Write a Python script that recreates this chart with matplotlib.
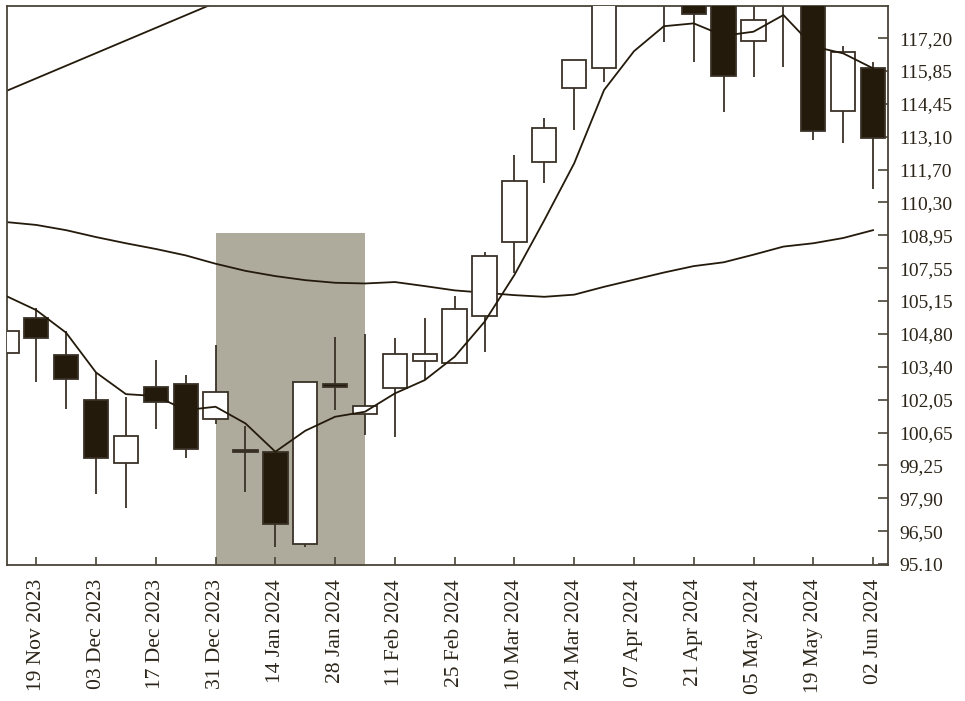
import matplotlib
matplotlib.use("Agg")
import matplotlib.pyplot as plt
import matplotlib.dates as mdates
from matplotlib.ticker import FixedLocator, FixedFormatter
import numpy as np
import pandas as pd

# ---------------- data ----------------
dates = ["2023-11-12", "2023-11-19", "2023-11-26", "2023-12-03", "2023-12-10",
         "2023-12-17", "2023-12-24", "2023-12-31", "2024-01-07", "2024-01-14",
         "2024-01-21", "2024-01-28", "2024-02-04", "2024-02-11", "2024-02-18",
         "2024-02-25", "2024-03-03", "2024-03-10", "2024-03-17", "2024-03-24",
         "2024-03-31", "2024-04-07", "2024-04-14", "2024-04-21", "2024-04-28",
         "2024-05-05", "2024-05-12", "2024-05-19", "2024-05-26", "2024-06-02"]

open_ = [103.95, 105.45, 103.87, 101.99, 99.36, 102.55, 102.66, 101.18, 99.90, 99.82,
         95.93, 102.66, 101.39, 102.49, 103.63, 103.56, 105.52, 108.63, 111.99, 115.09,
         115.95, 120.10, 119.40, 119.60, 119.00, 117.09, 119.10, 119.80, 114.13, 115.95]
high = [105.30, 105.87, 104.90, 103.18, 102.10, 103.66, 103.04, 104.30, 100.90, 99.82,
        102.76, 104.62, 104.76, 104.61, 105.42, 106.36, 108.22, 112.27, 113.83, 116.29,
        120.40, 121.60, 120.80, 120.20, 119.40, 119.20, 120.50, 120.20, 116.86, 116.20]
low = [103.50, 102.76, 101.60, 98.03, 97.47, 100.76, 99.54, 100.98, 98.11, 95.83,
       95.83, 101.57, 100.52, 100.42, 102.83, 103.49, 104.00, 107.31, 111.10, 113.36,
       115.35, 118.90, 117.04, 116.18, 114.10, 115.55, 115.99, 112.91, 112.78, 110.84]
close = [104.90, 104.58, 102.88, 99.57, 100.49, 101.92, 99.93, 102.31, 99.80, 96.77,
         102.76, 102.55, 101.74, 103.92, 103.92, 105.80, 108.04, 111.19, 113.42, 116.29,
         119.80, 121.20, 120.30, 118.20, 115.60, 117.96, 120.00, 113.29, 116.60, 113.01]

ma_short = [106.36, 105.77, 104.82, 103.15, 102.24, 102.16, 101.57, 101.71, 101.01, 99.82,
            100.70, 101.29, 101.50, 102.27, 102.83, 103.81, 105.28, 107.25, 109.55, 111.94,
            115.02, 116.65, 117.70, 117.82, 117.30, 117.47, 118.17, 116.85, 116.56, 115.93]
ma_long = [109.47, 109.35, 109.13, 108.84, 108.58, 108.34, 108.07, 107.72, 107.42, 107.20,
           107.03, 106.92, 106.89, 106.95, 106.78, 106.60, 106.50, 106.40, 106.33, 106.42,
           106.75, 107.05, 107.35, 107.62, 107.78, 108.10, 108.44, 108.58, 108.80, 109.13]

trend_dates = ["2023-11-12", "2024-01-21"]
trend_values = [114.98, 120.28]

shade_dates = ["2023-12-31", "2024-02-04"]
shade_top = 109.0

ytick_labels = ["95.10", "96,50", "97,90", "99,25", "100,65", "102,05", "103,40",
                "104,80", "105,15", "107,55", "108,95", "110,30", "111,70", "113,10",
                "114,45", "115,85", "117,20"]
xtick_dates = ["2023-11-19", "2023-12-03", "2023-12-17", "2023-12-31", "2024-01-14",
               "2024-01-28", "2024-02-11", "2024-02-25", "2024-03-10", "2024-03-24",
               "2024-04-07", "2024-04-21", "2024-05-05", "2024-05-19", "2024-06-02"]
xtick_labels = ["19 Nov 2023", "03 Dec 2023", "17 Dec 2023", "31 Dec 2023", "14 Jan 2024",
                "28 Jan 2024", "11 Feb 2024", "25 Feb 2024", "10 Mar 2024", "24 Mar 2024",
                "07 Apr 2024", "21 Apr 2024", "05 May 2024", "19 May 2024", "02 Jun 2024"]

# ---------------- style ----------------
DARK = "#231a0b"
EDGE = "#3a3226"
SPINE = "#4a4438"
SHADE = "#aeab9c"
TEXT = "#2b2418"

plt.rcParams["font.family"] = ["Liberation Serif", "DejaVu Serif"]

fig = plt.figure(figsize=(9.65, 7.01), dpi=100)
ax = fig.add_axes([7 / 965, 1 - 565 / 701, (888 - 7) / 965, (565 - 6) / 701])

x = mdates.date2num(pd.to_datetime(dates))
o = np.array(open_); h = np.array(high); l = np.array(low); c = np.array(close)

# shaded region
sx = mdates.date2num(pd.to_datetime(shade_dates))
ax.fill_between(sx, 90, shade_top, color=SHADE, linewidth=0, zorder=0)

# trend line
tx = mdates.date2num(pd.to_datetime(trend_dates))
ax.plot(tx, trend_values, color=DARK, lw=1.3, zorder=1)

# long moving average
ax.plot(x, ma_long, color=DARK, lw=1.3, zorder=1)

# candles
width = 5.7
ax.vlines(x, l, h, color=EDGE, lw=1.3, zorder=2)
up = c >= o
bottoms = np.minimum(o, c)
heights = np.maximum(np.abs(c - o), 0.08)
ax.bar(x[up], heights[up], width=width, bottom=bottoms[up], color="white",
       edgecolor=EDGE, linewidth=1.3, zorder=3)
ax.bar(x[~up], heights[~up], width=width, bottom=bottoms[~up], color=DARK,
       edgecolor=EDGE, linewidth=1.3, zorder=3)

# short moving average
ax.plot(x, ma_short, color=DARK, lw=1.3, zorder=4)

# axes limits
ax.set_xlim(x[0] + 0.15, x[-1] + 3.5)
ax.set_ylim(95.06, 118.55)

# ticks
ax.yaxis.tick_right()
ax.yaxis.set_major_locator(FixedLocator(np.linspace(95.10, 117.20, len(ytick_labels))))
ax.yaxis.set_major_formatter(FixedFormatter(ytick_labels))
xt = mdates.date2num(pd.to_datetime(xtick_dates))
ax.xaxis.set_major_locator(FixedLocator(xt))
ax.xaxis.set_major_formatter(FixedFormatter(xtick_labels))
ax.tick_params(axis="y", which="both", direction="in", length=7, width=1.2,
               color=SPINE, labelsize=14, labelcolor=TEXT, pad=8, left=False, right=True)
ax.tick_params(axis="x", which="both", direction="in", length=6, width=1.2,
               color=SPINE, labelsize=15.5, labelcolor=TEXT, pad=10, labelrotation=90)
for lab in ax.get_yticklabels():
    lab.set_horizontalalignment("left")
for sp in ax.spines.values():
    sp.set_color(SPINE)
    sp.set_linewidth(1.3)

fig.savefig("out.png", dpi=100)
